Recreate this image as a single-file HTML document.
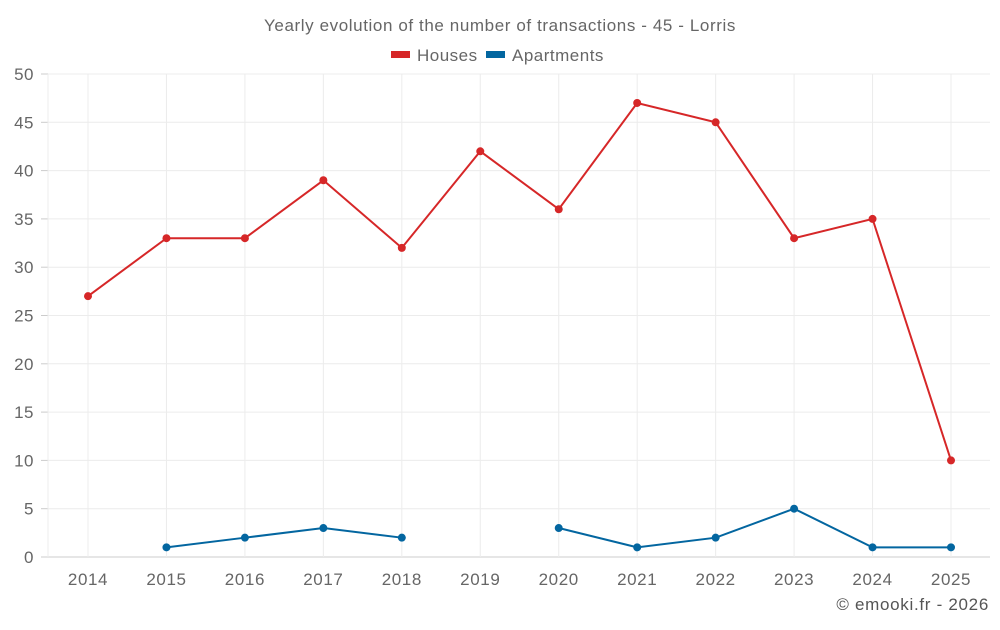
<!DOCTYPE html>
<html><head><meta charset="utf-8"><style>
body{margin:0;background:#fff;font-family:"Liberation Sans",sans-serif}
svg text{font-family:"Liberation Sans",sans-serif}
</style></head><body>
<svg id="c" width="1000" height="625">
<text x="500" y="31" text-anchor="middle" font-size="17" letter-spacing="0.6" fill="#666">Yearly evolution of the number of transactions - 45 - Lorris</text>
<g><rect x="391" y="51" width="19" height="7" fill="#d62728"/><text x="417" y="61" font-size="17" letter-spacing="0.5" fill="#666">Houses</text></g>
<g><rect x="486" y="51" width="19" height="7" fill="#0366a0"/><text x="512" y="61" font-size="17" letter-spacing="0.5" fill="#666">Apartments</text></g>
<text x="989" y="610" text-anchor="end" font-size="17" letter-spacing="0.7" fill="#555">© emooki.fr - 2026</text>
<g id="grid"></g><g id="marks"></g>
</svg>
<script>
const years=["2014","2015","2016","2017","2018","2019","2020","2021","2022","2023","2024","2025"];
const houses=[27,33,33,39,32,42,36,47,45,33,35,10];
const apartments=[null,1,2,3,2,null,3,1,2,5,1,1];
const yTicks=[0,5,10,15,20,25,30,35,40,45,50];
const NS="http://www.w3.org/2000/svg";
const L=48,R=990,T=74,B=557,X0=88,X1=951;
const x=i=>X0+i*(X1-X0)/(years.length-1);
const y=v=>B-(v/50)*(B-T);
const g=document.getElementById('grid'),m=document.getElementById('marks');
function mk(tag,at,p){const e=document.createElementNS(NS,tag);for(const k in at)e.setAttribute(k,at[k]);p.appendChild(e);return e;}
yTicks.forEach(t=>{
 const l=mk('line',{x1:L,x2:R,y1:y(t),y2:y(t),stroke:t===0?'#ccc':'#ececec'},g);
 
 
 mk('line',{x1:41,x2:L,y1:y(t),y2:y(t),stroke:'#ccc'},g);
 const tx=mk('text',{x:34,y:y(t)+6,'text-anchor':'end','font-size':17,'letter-spacing':0.5,fill:'#666'},g);tx.textContent=t;
 
 
});
mk('line',{x1:L,x2:L,y1:T,y2:B,stroke:'#ececec'},g);
years.forEach((yr,i)=>{
 mk('line',{x1:x(i),x2:x(i),y1:T,y2:B,stroke:'#ececec'},g);
 const tx=mk('text',{x:x(i),y:585,'text-anchor':'middle','font-size':17,'letter-spacing':0.6,fill:'#666'},g);tx.textContent=yr;
 
 
});
function series(data,color,name){
 let segs=[],cur=[];
 data.forEach((v,i)=>{if(v==null){if(cur.length)segs.push(cur);cur=[];}else cur.push([x(i),y(v)]);});
 if(cur.length)segs.push(cur);
 segs.forEach(s=>{const p=mk('polyline',{points:s.map(q=>q.join(',')).join(' '),fill:'none',stroke:color,'stroke-width':2},m);
  
  });
 data.forEach((v,i)=>{if(v==null)return;const c=mk('circle',{cx:x(i),cy:y(v),r:4,fill:color},m);
  
  });
}
series(houses,'#d62728','houses');
series(apartments,'#0366a0','apartments');
</script>
</body></html>
